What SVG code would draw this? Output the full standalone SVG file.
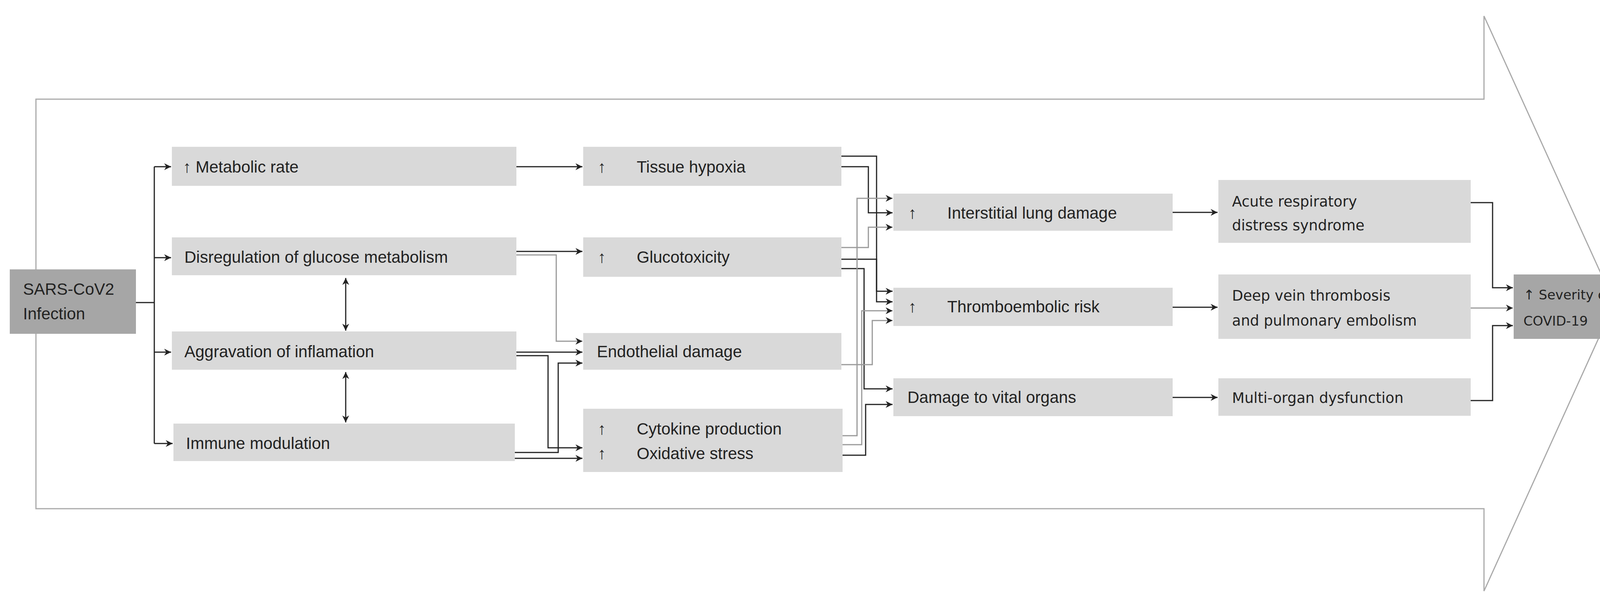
<svg xmlns="http://www.w3.org/2000/svg" width="4262" height="1542" viewBox="0 0 4262 1542">
<style>
.b{fill:#d9d9d9}.d{fill:#a6a6a6}
.t{font-family:"Liberation Sans",Arial,sans-serif;font-size:42px;fill:#222}
.v{font-family:"DejaVu Sans",Verdana,sans-serif;font-size:37px;fill:#222}
.s{font-family:"DejaVu Sans",Verdana,sans-serif;font-size:34px;fill:#222}
.c{fill:none;stroke:#222;stroke-width:3}
.g{fill:none;stroke:#999;stroke-width:3}
</style>
<defs>
<marker id="a" viewBox="0 0 10 10" refX="10" refY="5" markerWidth="8" markerHeight="8" markerUnits="userSpaceOnUse" orient="auto-start-reverse" style="overflow:visible"><path d="M0,0 L10,5 L0,10 L3,5 Z" fill="#222" transform="scale(2.2) translate(-5.5,-2.7)"/></marker>
</defs>
<path d="M92,254 H3799 V41 L4133,777 L3799,1514 V1303 H92 Z" fill="none" stroke="#aaa" stroke-width="3"/>
<g id="sars"><rect class="d" x="25" y="690" width="323" height="165"/><text class="t" x="59" y="755">SARS-CoV2</text><text class="t" x="59" y="818">Infection</text></g>
<g id="metabolic"><rect class="b" x="440" y="376" width="882" height="100"/><text class="t" x="468" y="442">↑ Metabolic rate</text></g>
<g id="disreg"><rect class="b" x="440" y="608" width="882" height="97"/><text class="t" x="472" y="673">Disregulation of glucose metabolism</text></g>
<g id="aggr"><rect class="b" x="440" y="849" width="882" height="98"/><text class="t" x="472" y="915">Aggravation of inflamation</text></g>
<g id="immune"><rect class="b" x="444" y="1085" width="874" height="96"/><text class="t" x="476" y="1150">Immune  modulation</text></g>
<g id="tissue"><rect class="b" x="1493" y="376" width="661" height="100"/><text class="t" x="1530" y="442">↑</text><text class="t" x="1630" y="442">Tissue hypoxia</text></g>
<g id="gluco"><rect class="b" x="1493" y="608" width="661" height="101"/><text class="t" x="1530" y="673">↑</text><text class="t" x="1630" y="673">Glucotoxicity</text></g>
<g id="endo"><rect class="b" x="1493" y="853" width="661" height="94"/><text class="t" x="1528" y="915">Endothelial damage</text></g>
<g id="cyto"><rect class="b" x="1493" y="1047" width="664" height="162"/><text class="t" x="1530" y="1113">↑</text><text class="t" x="1630" y="1113">Cytokine production</text><text class="t" x="1530" y="1176">↑</text><text class="t" x="1630" y="1176">Oxidative stress</text></g>
<g id="lung"><rect class="b" x="2287" y="496" width="715" height="95"/><text class="t" x="2325" y="560">↑</text><text class="t" x="2425" y="560">Interstitial lung damage</text></g>
<g id="thrombo"><rect class="b" x="2287" y="737" width="715" height="98"/><text class="t" x="2325" y="800">↑</text><text class="t" x="2425" y="800">Thromboembolic  risk</text></g>
<g id="organs"><rect class="b" x="2287" y="969" width="715" height="97"/><text class="t" x="2323" y="1032">Damage to vital organs</text></g>
<g id="ards"><rect class="b" x="3119" y="461" width="646" height="161"/><text class="v" x="3154" y="529">Acute respiratory</text><text class="v" x="3154" y="590">distress syndrome</text></g>
<g id="dvt"><rect class="b" x="3119" y="703" width="646" height="165"/><text class="v" x="3154" y="770">Deep vein thrombosis</text><text class="v" x="3154" y="834">and pulmonary  embolism</text></g>
<g id="multi"><rect class="b" x="3119" y="969" width="646" height="96"/><text class="v" x="3154" y="1032">Multi-organ dysfunction</text></g>
<g id="severity"><rect class="d" x="3875" y="703" width="360" height="165"/><text class="s" x="3900" y="767">↑ Severity of</text><text class="s" x="3900" y="834">COVID-19</text></g>
<g id="connectors">
<path class="c" d="M348,775 H395"/>
<path class="c" d="M395,427 V1136" />
<path class="c" d="M395,427 H438" marker-end="url(#a)"/>
<path class="c" d="M395,660 H438" marker-end="url(#a)"/>
<path class="c" d="M395,902 H438" marker-end="url(#a)"/>
<path class="c" d="M395,1136 H442" marker-end="url(#a)"/>
<path class="c" d="M885,712 V847" marker-start="url(#a)" marker-end="url(#a)"/>
<path class="c" d="M885,953 V1082" marker-start="url(#a)" marker-end="url(#a)"/>
<path class="c" d="M1322,427 H1491" marker-end="url(#a)"/>
<path class="c" d="M1322,644 H1491" marker-end="url(#a)"/>
<path class="g" d="M1322,653 H1424 V874 H1491" marker-end="url(#a)"/>
<path class="c" d="M1322,902 H1491" marker-end="url(#a)"/>
<path class="c" d="M1322,911 H1403 V1147 H1491" marker-end="url(#a)"/>
<path class="c" d="M1318,1159 H1429 V930 H1491" marker-end="url(#a)"/>
<path class="c" d="M1318,1174 H1491" marker-end="url(#a)"/>
<path class="c" d="M2154,400 H2244 V746 H2285" marker-end="url(#a)"/>
<path class="c" d="M2154,427 H2223 V545 H2285" marker-end="url(#a)"/>
<path class="g" d="M2154,634 H2223 V582 H2285" marker-end="url(#a)"/>
<path class="c" d="M2154,664 H2244 V773 H2285" marker-end="url(#a)"/>
<path class="c" d="M2154,688 H2212 V996 H2285" marker-end="url(#a)"/>
<path class="g" d="M2157,1116 H2194 V508 H2285" marker-end="url(#a)"/>
<path class="g" d="M2157,1139 H2206 V796 H2285" marker-end="url(#a)"/>
<path class="c" d="M2157,1166 H2216 V1036 H2285" marker-end="url(#a)"/>
<path class="g" d="M2154,934 H2233 V821 H2285" marker-end="url(#a)"/>
<path class="c" d="M3002,544 H3117" marker-end="url(#a)"/>
<path class="c" d="M3002,787 H3117" marker-end="url(#a)"/>
<path class="c" d="M3002,1018 H3117" marker-end="url(#a)"/>
<path class="c" d="M3765,519 H3821 V737 H3873" marker-end="url(#a)"/>
<path class="g" d="M3765,789 H3873" marker-end="url(#a)"/>
<path class="c" d="M3765,1026 H3821 V834 H3873" marker-end="url(#a)"/>
</g>
</svg>
